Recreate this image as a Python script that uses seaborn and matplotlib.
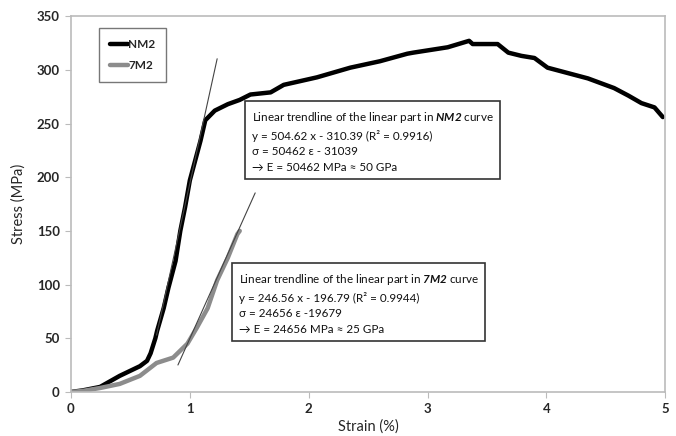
import matplotlib
matplotlib.use("Agg")
import matplotlib.pyplot as plt
import seaborn as sns
import numpy as np
import pandas as pd

# NM2 curve (strain %, stress MPa)
nm2_strain = [0.0, 0.1, 0.245, 0.41, 0.58, 0.64, 0.67, 0.71, 0.725, 0.78, 0.82, 0.88, 0.92, 0.96,
              1.0, 1.09, 1.13, 1.21, 1.32, 1.42, 1.51, 1.68, 1.79, 2.07, 2.35, 2.6, 2.83, 2.88,
              3.17, 3.35, 3.38, 3.59, 3.68, 3.79, 3.9, 4.01, 4.18, 4.35, 4.57, 4.69, 4.8, 4.91, 4.98]
nm2_stress = [0, 1.5, 4.7, 15, 24, 29, 36, 50, 57, 78, 97, 122, 150, 172,
              197, 234, 253, 262, 268, 272, 277, 279, 286, 293, 302, 308, 315, 316,
              321, 327, 324, 324, 316, 313, 311, 302, 297, 292, 283, 276, 269, 265, 256]

# 7M2 curve
m7_strain = [0.0, 0.1, 0.245, 0.41, 0.58, 0.72, 0.86, 0.98, 1.06, 1.15, 1.23, 1.32, 1.4, 1.42]
m7_stress = [0, 1, 3.7, 7.5, 15, 27, 32, 45, 60, 78, 104, 125, 147, 150]

# Linear trendlines (fit ranges)
nm2_fit_x = [0.72, 1.23]
m7_fit_x = [0.9, 1.55]
nm2_slope, nm2_icpt = 504.62, -310.39
m7_slope, m7_icpt = 246.56, -196.79

series_labels = ["NM2", "7M2"]
x_ticks = [0, 1, 2, 3, 4, 5]
y_ticks = [0, 50, 100, 150, 200, 250, 300, 350]

text_nm2 = ("Linear trendline of the linear part in $\\bfit{NM2}$ curve\n"
            "y = 504.62 x - 310.39 (R² = 0.9916)\n"
            "σ = 50462 ε - 31039\n"
            "→ E = 50462 MPa ≈ 50 GPa")
text_7m2 = ("Linear trendline of the linear part in $\\bfit{7M2}$ curve\n"
            "y = 246.56 x - 196.79 (R² = 0.9944)\n"
            "σ = 24656 ε -19679\n"
            "→ E = 24656 MPa ≈ 25 GPa")

sns.set_theme(style="white")
plt.rcParams['font.family'] = ['Lato', 'DejaVu Sans']
plt.rcParams['mathtext.fontset'] = 'custom'
plt.rcParams['mathtext.bfit'] = 'Lato:bold:italic'
plt.rcParams['mathtext.it'] = 'Lato:italic'
plt.rcParams['mathtext.bf'] = 'Lato:bold'
plt.rcParams['mathtext.rm'] = 'Lato'

fig = plt.figure(figsize=(6.76, 4.36), dpi=100)
ax = fig.add_axes([0.105, 0.101, 0.879, 0.862])

df_nm2 = pd.DataFrame({"strain": nm2_strain, "stress": nm2_stress})
df_7m2 = pd.DataFrame({"strain": m7_strain, "stress": m7_stress})

sns.lineplot(data=df_nm2, x="strain", y="stress", sort=False, color="black", lw=3.2, ax=ax,
             label=series_labels[0])
sns.lineplot(data=df_7m2, x="strain", y="stress", sort=False, color="#8c8c8c", lw=3.2, ax=ax,
             label=series_labels[1])

fx = np.array(nm2_fit_x)
ax.plot(fx, nm2_slope * fx + nm2_icpt, color="#444444", lw=0.8)
fx = np.array(m7_fit_x)
ax.plot(fx, m7_slope * fx + m7_icpt, color="#444444", lw=0.8)

ax.set_xlim(0, 5)
ax.set_ylim(0, 350)
ax.set_xticks(x_ticks)
ax.set_yticks(y_ticks)
ax.set_xticklabels([str(t) for t in x_ticks], fontweight="bold", fontsize=9.5)
ax.set_yticklabels([str(t) for t in y_ticks], fontweight="bold", fontsize=9.5)
ax.tick_params(axis="both", which="major", length=4, width=0.8, color="#bbbbbb",
               direction="out", bottom=True, left=True, pad=4)
for s in ax.spines.values():
    s.set_color("#bbbbbb")
    s.set_linewidth(1.2)

ax.set_xlabel("Strain (%)", fontsize=10.5, labelpad=3)
ax.set_ylabel("Stress (MPa)", fontsize=10.5, labelpad=8)

leg = ax.legend(loc="upper left", bbox_to_anchor=(0.047, 0.968), borderaxespad=0,
                frameon=True, fancybox=False, handlelength=1.6, borderpad=0.9,
                labelspacing=0.9, handletextpad=0.0, prop={"weight": "bold", "size": 8.5})
leg.get_frame().set_edgecolor("#555555")
leg.get_frame().set_linewidth(1.0)

box = dict(boxstyle="square,pad=0.55", facecolor="white", edgecolor="#333333", lw=1.2)
ax.text(1.52, 263, text_nm2, fontsize=8.4, va="top", ha="left", linespacing=1.5,
        color="#111111", bbox=box)
ax.text(1.41, 112, text_7m2, fontsize=8.4, va="top", ha="left", linespacing=1.5,
        color="#111111", bbox=box)

fig.savefig("out.png", dpi=100)
